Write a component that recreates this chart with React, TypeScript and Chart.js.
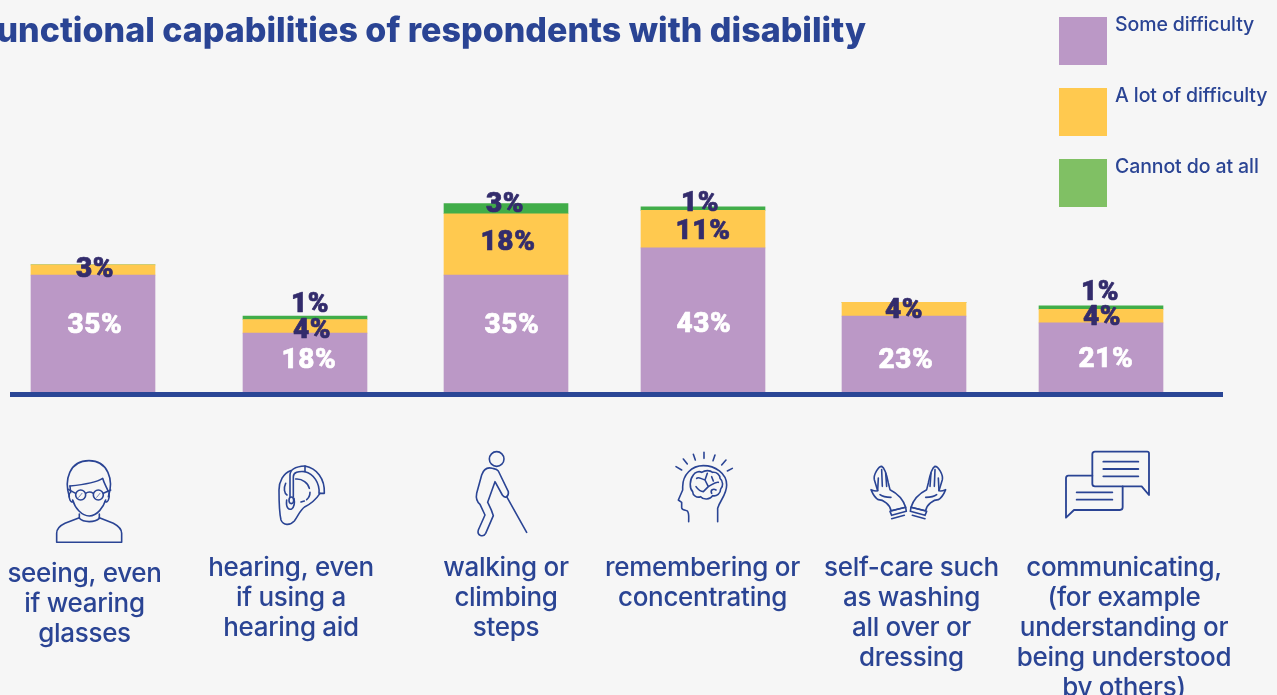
import React, { useEffect, useRef } from "react";
import { Chart, registerables } from "chart.js";

Chart.register(...registerables);

const titleText = "Functional capabilities of respondents with disability";
const seriesNames = ["Some difficulty", "A lot of difficulty", "Cannot do at all"];
const someDifficulty = [35, 18, 35, 43, 23, 21];
const aLotOfDifficulty = [3, 4, 18, 11, 4, 4];
const cannotDoAtAll = [0, 1, 3, 1, 0, 1];
const categoryLines = [
  ["seeing, even", "if wearing", "glasses"],
  ["hearing, even", "if using a", "hearing aid"],
  ["walking or", "climbing", "steps"],
  ["remembering or", "concentrating"],
  ["self-care such", "as washing", "all over or", "dressing"],
  ["communicating,", "(for example", "understanding or", "being understood", "by others)"],
];

// Layout of the infographic columns, in canvas pixels.
const barCentres = [93, 305, 506, 703, 904, 1101];
const captionCentres = [84.5, 291, 506, 702.5, 911.5, 1124];
const captionFirstBaselines = [581.5, 575.5, 575.5, 575.5, 575.5, 575.5];
// Hand placement of each percentage relative to the middle of its segment.
const labelNudges = [
  [[2, -12], [4, -6], [6, -12], [1, 1], [2, 3], [5, -2]],
  [[2, -3], [7, 2], [2, -4], [0, 0], [0, -1], [1, -1]],
  [[0, 0], [5, -16], [-1, -6.5], [-3, -8], [0, 0], [-1, -18]],
];

const BG = "#f6f6f6";
const NAVY = "#2a4494";
const INK = "#332c6c";
const barColours = ["#bb98c6", "#ffc94f", "#41ad49"];
const swatchColours = ["#bb98c6", "#ffc94f", "#80c064"];
const swatchTops = [17, 88, 159];

const uiFont = "Inter, 'Noto Sans', sans-serif";
const numberFont = "Roboto, sans-serif";

const textPlugin = {
  id: "infographicText",
  afterDatasetsDraw(chart: any) {
    const ctx = chart.ctx;
    ctx.save();

    // Percentages on the stacked segments, thickened slightly with a stroke
    ctx.textAlign = "center";
    ctx.textBaseline = "middle";
    ctx.lineJoin = "round";
    ctx.lineWidth = 0.7;
    chart.data.datasets.forEach((ds: any, di: number) => {
      const meta = chart.getDatasetMeta(di);
      meta.data.forEach((bar: any, i: number) => {
        const v = ds.data[i].y;
        if (!v) return;
        const [dx, dy] = labelNudges[di][i];
        ctx.font = (di === 0 ? "800" : "900") + " 28px " + numberFont;
        (ctx as any).letterSpacing = "0.6px";
        ctx.fillStyle = di === 0 ? "#ffffff" : INK;
        ctx.strokeStyle = ctx.fillStyle;
        const px = bar.x + dx;
        const py = (bar.y + bar.base) / 2 + dy + 3;
        ctx.fillText(v + "%", px, py);
        ctx.strokeText(v + "%", px, py);
      });
    });
    ctx.textBaseline = "alphabetic";

    // Captions under the pictograms
    ctx.fillStyle = NAVY;
    ctx.font = "500 26px " + uiFont;
    (ctx as any).letterSpacing = "-0.3px";
    categoryLines.forEach((lines, i) => {
      lines.forEach((line, l) => {
        ctx.fillText(line, captionCentres[i], captionFirstBaselines[i] + l * 30);
      });
    });

    // Heading, running off the left edge of the page
    ctx.textAlign = "right";
    ctx.font = "800 34px " + uiFont;
    (ctx as any).letterSpacing = "0px";
    ctx.fillText(titleText, 866, 42);

    // Key
    ctx.textAlign = "left";
    ctx.font = "500 19.5px " + uiFont;
    (ctx as any).letterSpacing = "-0.1px";
    seriesNames.forEach((name, i) => {
      ctx.fillStyle = swatchColours[i];
      ctx.fillRect(1059, swatchTops[i], 48, 48);
      ctx.fillStyle = NAVY;
      ctx.fillText(name, 1115, swatchTops[i] + 14);
    });
    ctx.restore();
  },
};

const S = { fill: "none", stroke: NAVY, strokeWidth: 4.8, strokeLinecap: "round", strokeLinejoin: "round" } as const;

function OpenHand() {
  return (
    <>
      <path d="M18,95 C30,100 35,100 38,98 L28,65 C25,50 40,25 50,25 C60,30 65,50 70,75 L75,95 C95,105 115,125 122,148 L78,158 C75,140 55,125 40,125 C30,120 22,105 18,95 Z" />
      <path d="M38,98 L40,60 M50,35 L52,85 M62,45 L65,85 M45,110 C55,118 68,118 78,118" />
      <path d="M75,160 L122,148 L124,160 L80,172 Z M80,182 L118,172" />
    </>
  );
}

function Pictograms() {
  return (
    <svg width={1277} height={695} style={{ position: "absolute", left: 0, top: 0, pointerEvents: "none" }}>
      {/* glasses wearer */}
      <g transform="translate(40,450) scale(0.3333)" {...S}>
        <path d="M88,140 C72,90 88,32 147,32 C204,32 222,90 205,140" />
        <path d="M90,108 C120,105 165,100 188,85 C192,100 200,112 205,125" />
        <path d="M90,108 L92,128 M98,150 C105,175 125,197 148,198 C172,197 190,172 197,150" />
        <circle cx={122} cy={135} r={15} />
        <circle cx={175} cy={135} r={15} />
        <path d="M137,130 Q148,122 160,130 M85,118 L107,130 M190,130 L212,120" />
        <path d="M116,142 L126,130 M170,142 L180,130" strokeWidth={2} />
        <path d="M88,130 C85,145 92,160 100,155 M207,130 C210,145 203,160 195,155" />
        <path d="M118,192 L118,205 C130,218 165,218 178,205 L178,192" />
        <path d="M118,203 L75,220 C58,228 50,240 50,250 L50,277 L245,277 L245,250 C245,240 235,228 220,220 L178,203" />
      </g>
      {/* ear with hearing aid */}
      <g transform="translate(265,455) scale(0.3333)" {...S}>
        <path d="M76,47 C55,55 42,80 42,105 C42,130 42,170 48,195 C55,212 75,212 88,198 C100,182 105,165 120,155 C140,145 155,130 165,115" />
        <path d="M75,125 L75,60 C75,45 88,35 120,33 M85,125 L85,65 C85,52 100,48 120,50" />
        <path d="M120,33 C155,40 180,70 178,115 L162,115 C165,85 145,55 120,50 Z" />
        <ellipse cx={79} cy={136} rx={7} ry={10} />
        <path d="M65,135 C62,160 72,165 80,162 C88,155 90,145 87,130 M62,85 C55,100 58,115 66,120" />
        <path d="M92,72 C112,70 130,85 133,100 M135,112 C135,122 130,130 125,134 M118,138 L108,141" />
      </g>
      {/* walker with cane */}
      <g transform="translate(465,445) scale(0.3333)" {...S}>
        <circle cx={95} cy={42} r={22} />
        <path d="M82,70 C65,65 55,75 50,90 L35,145 C32,160 38,172 45,178 L60,210 L40,255 C35,272 55,278 62,265 L85,212 C80,195 72,180 68,172 L90,110 L112,150 C120,162 132,155 130,140 L100,78 C95,72 90,72 82,70 Z" />
        <path d="M125,155 L185,262" />
      </g>
      {/* head with brain */}
      <g transform="translate(670,445) scale(0.3333)" {...S}>
        <path d="M18,65 L35,75 M40,42 L52,57 M70,28 L76,45 M102,22 L102,40 M135,30 L129,47 M168,45 L155,60 M187,70 L172,78" />
        <path d="M143,230 L143,190 C150,165 170,150 170,120 C170,85 135,62 100,62 C65,62 38,90 38,125 L38,135 L25,165 L35,172 L35,188 C35,195 45,195 52,198 C58,205 56,215 56,230" />
        <path d="M70,90 C75,80 88,78 95,82 C105,75 120,75 128,82 C140,80 150,90 150,100 C160,108 160,125 152,132 C152,145 140,155 128,152 C120,165 100,165 92,155 C80,160 68,150 68,140 C58,130 58,105 70,90 Z" />
        <path d="M112,85 L105,105 C90,100 85,95 80,100 M105,105 L115,125 C125,120 135,110 145,112 M115,125 L100,140 C90,140 85,135 78,125 M125,145 C120,135 130,130 138,135 M125,95 L130,108" />
      </g>
      {/* open hands */}
      <g transform="translate(865,458) scale(0.3333)" {...S}>
        <OpenHand />
        <g transform="translate(260,0) scale(-1,1)">
          <OpenHand />
        </g>
      </g>
      {/* speech bubbles */}
      <g transform="translate(1060,445) scale(0.3333)" {...S} strokeWidth={5.5}>
        <path d="M105,20 L262,20 Q267,20 267,25 L267,150 L245,124 L105,124 Q97,124 97,116 L97,28 Q97,20 105,20 Z" />
        <path d="M130,50 L235,50 M130,72 L235,72 M130,94 L235,94" />
        <path d="M97,92 L25,92 Q18,92 18,100 L18,218 L42,195 L180,195 Q188,195 188,187 L188,124" />
        <path d="M50,142 L157,142 M50,164 L157,164" />
      </g>
    </svg>
  );
}

export default function App() {
  const canvasRef = useRef<HTMLCanvasElement>(null);

  useEffect(() => {
    const series = [someDifficulty, aLotOfDifficulty, cannotDoAtAll];
    const chart = new Chart(canvasRef.current!, {
      type: "bar",
      data: {
        datasets: series.map((values, s) => ({
          label: seriesNames[s],
          data: values.map((y, i) => ({ x: barCentres[i], y })),
          backgroundColor: barColours[s],
          borderWidth: 0,
          barThickness: 124,
          stack: "share",
        })),
      } as any,
      options: {
        responsive: false,
        animation: false,
        layout: { padding: { left: 12, right: 55, top: 189.9, bottom: 300.5 } },
        plugins: { legend: { display: false }, tooltip: { enabled: false }, title: { display: false } },
        scales: {
          x: {
            type: "linear",
            min: 12,
            max: 1222,
            offset: false,
            stacked: true,
            ticks: { display: false },
            grid: { display: false, drawTicks: false },
            border: { display: true, color: "#2a4696", width: 5, z: 1 },
          },
          y: {
            min: 0,
            max: 60,
            stacked: true,
            display: false,
          },
        },
      } as any,
      plugins: [textPlugin],
    });
    return () => chart.destroy();
  }, []);

  return (
    <div style={{ position: "fixed", left: 0, top: 0, width: 1277, height: 695, background: BG, overflow: "hidden" }}>
      <canvas ref={canvasRef} width={1277} height={695} style={{ display: "block" }} />
      <Pictograms />
    </div>
  );
}
